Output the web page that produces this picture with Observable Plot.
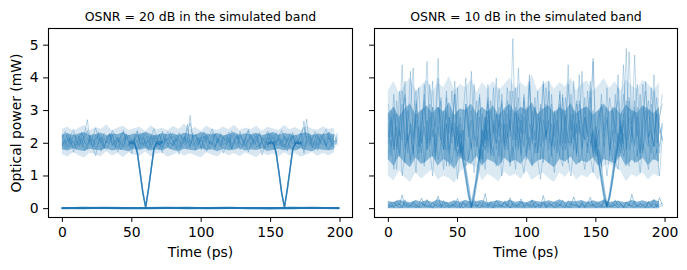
<!DOCTYPE html>
<html><head><meta charset="utf-8">
<script src="https://cdn.jsdelivr.net/npm/d3@7"></script>
<script src="https://cdn.jsdelivr.net/npm/@observablehq/plot@0.6"></script>
<style>
body{margin:0;background:#fff;font-family:"DejaVu Sans",sans-serif}
#chart{position:relative;width:687px;height:270px;overflow:hidden}
#chart svg{position:absolute;top:0}
</style>
</head><body><div id="chart"></div>
<script>
// ---------- data ----------
const titles = ["OSNR = 20 dB in the simulated band", "OSNR = 10 dB in the simulated band"];
const xLabel = "Time (ps)";
const yLabel = "Optical power (mW)";
const xTicks = [0, 50, 100, 150, 200];
const yTicks = [0, 1, 2, 3, 4, 5];
const sampleStep = 2; // ps between samples of each trace
const bandStep = 4;   // ps between samples of the band envelopes

// OSNR 20 dB: envelopes of the dense "1"-level band
const coreLoL = [1.8,1.76,1.83,1.78,1.75,1.82,1.79,1.77,1.84,1.76,1.8,1.78,1.74,1.82,1.79,1.83,1.76,1.8,1.77,1.84,1.78,1.75,1.82,1.79,1.76,1.83,1.78,1.8,1.74,1.82,1.77,1.79,1.84,1.76,1.8,1.78,1.83,1.75,1.79,1.82,1.77,1.8,1.76,1.83,1.78,1.74,1.82,1.79,1.77,1.8];
const coreHiL = [2.25,2.3,2.23,2.28,2.33,2.24,2.27,2.31,2.22,2.29,2.26,2.32,2.23,2.28,2.25,2.34,2.27,2.22,2.3,2.26,2.29,2.23,2.31,2.27,2.24,2.33,2.28,2.25,2.3,2.22,2.27,2.32,2.24,2.29,2.26,2.31,2.23,2.28,2.33,2.25,2.3,2.27,2.22,2.29,2.32,2.24,2.28,2.26,2.31,2.25];
const fringeLoL = [1.66,1.58,1.72,1.62,1.55,1.7,1.64,1.59,1.74,1.61,1.69,1.56,1.71,1.63,1.6,1.73,1.58,1.67,1.7,1.57,1.64,1.72,1.6,1.68,1.62,1.55,1.71,1.64,1.58,1.73,1.61,1.69,1.59,1.7,1.63,1.56,1.72,1.62,1.67,1.58,1.71,1.61,1.68,1.57,1.64,1.72,1.6,1.69,1.62,1.7];
const fringeHiL = [2.42,2.5,2.36,2.46,2.54,2.38,2.48,2.42,2.57,2.37,2.47,2.52,2.39,2.45,2.49,2.36,2.53,2.41,2.46,2.38,2.51,2.42,2.59,2.4,2.48,2.37,2.52,2.43,2.39,2.5,2.41,2.55,2.38,2.47,2.42,2.52,2.37,2.49,2.44,2.39,2.54,2.41,2.48,2.38,2.51,2.43,2.4,2.5,2.42,2.47];
// OSNR 20 dB: traces at the "1" level
const highL1 = [2.08,1.93,2.17,2.02,1.86,2.21,2.11,1.97,2.29,2.72,2.05,1.9,2.14,2.24,1.98,1.83,2.12,2.31,2.04,1.92,2.19,2.07,1.85,2.26,2.13,1.95,2.08,2.35,2.01,1.89,2.16,2.22,1.94,2.06,2.28,1.99,1.87,2.15,2.09,2.33,1.96,2.11,1.84,2.2,2.04,2.58,1.93,2.18,2.27,1.97,2.1,1.88,2.23,2.05,1.95,2.3,2.12,1.9,2.06,2.19,1.86,2.25,2.08,1.98,2.36,2.02,1.91,2.14,2.21,1.94,2.07,2.29,1.99,1.85,2.17,2.11,1.96,2.32,2.03,1.9,2.2,2.09,1.87,2.24,2.13,1.97,2.05,2.68,2.01,1.92,2.18,2.26,1.95,2.1,2.3,1.88,2.06,2.15,1.98,2.22];
const highL2 = [1.92,2.15,2.27,1.98,2.06,1.81,2.19,2.34,2.03,1.95,2.12,1.88,2.25,2.09,1.76,2.16,2.01,2.28,1.94,2.1,1.87,2.22,2.4,2.0,1.9,2.13,2.06,1.79,2.18,2.31,1.97,2.08,1.85,2.24,2.11,1.93,2.37,2.04,1.89,2.2,2.07,1.83,2.29,2.14,1.96,2.02,2.85,2.1,1.91,2.17,1.8,2.23,2.05,1.99,2.32,1.9,2.12,2.26,1.95,2.03,2.19,1.82,2.11,2.27,2.0,1.93,2.16,2.38,1.88,2.08,2.21,1.97,2.04,1.84,2.3,2.14,1.92,2.09,2.25,1.99,1.86,2.18,2.06,2.33,1.94,2.12,2.02,1.78,2.2,2.29,1.96,2.07,1.89,2.24,2.1,1.93,2.35,2.01,1.87,2.16];
const highL3 = [2.01,1.84,1.97,2.2,1.72,2.06,1.9,2.13,1.78,1.99,2.24,1.86,1.62,2.04,2.17,1.91,1.8,2.09,2.26,1.95,1.74,2.02,2.15,1.88,1.97,1.68,2.11,2.03,1.83,2.19,1.94,1.77,2.07,2.23,1.89,2.0,1.71,2.14,1.96,1.85,2.1,1.92,1.66,2.05,2.18,1.87,1.98,2.12,1.79,2.01,2.2,1.9,1.75,2.08,1.96,1.84,2.16,2.02,1.7,1.93,2.11,1.86,2.04,2.21,1.8,1.95,2.09,1.73,2.0,2.14,1.88,1.97,1.64,2.06,2.19,1.91,1.82,2.03,2.15,1.89,1.98,1.76,2.1,2.22,1.93,1.85,2.05,1.69,1.99,2.13,1.87,2.02,1.78,2.08,2.17,1.92,1.81,2.04,1.95,2.11];
const highL4 = [2.18,2.36,2.07,2.25,2.43,2.11,1.99,2.29,2.16,2.38,2.05,2.22,2.47,2.13,2.01,2.31,2.19,2.09,2.4,2.24,2.03,2.17,2.34,2.12,2.26,1.98,2.2,2.39,2.08,2.15,2.3,2.02,2.21,2.45,2.1,2.27,2.04,2.18,2.36,2.14,2.23,2.06,2.32,2.2,2.11,2.41,2.62,2.16,2.28,2.05,2.19,2.35,2.09,2.24,2.44,2.12,2.01,2.3,2.17,2.26,2.07,2.38,2.21,2.13,2.29,2.03,2.2,2.42,2.1,2.25,2.15,2.33,2.06,2.19,2.37,2.11,2.27,2.02,2.23,2.4,2.14,2.08,2.31,2.18,2.26,2.05,2.34,2.49,2.16,2.22,2.1,2.36,2.2,2.07,2.28,2.43,2.13,2.24,2.04,2.3];
const highL5 = [1.97,2.09,1.85,2.14,2.02,1.93,2.23,1.88,2.06,2.17,1.95,2.11,1.82,2.04,2.2,1.9,2.08,1.99,2.27,1.86,2.12,2.0,1.92,2.18,2.05,1.84,2.15,2.24,1.96,2.03,1.89,2.13,2.21,1.94,2.07,1.81,2.1,2.26,1.98,2.01,1.91,2.16,2.05,1.87,2.22,2.0,2.11,1.93,2.06,2.19,1.85,2.09,2.25,1.97,2.03,1.88,2.14,2.02,2.2,1.95,2.07,1.83,2.12,2.23,1.99,1.9,2.17,2.04,1.96,2.1,2.28,1.92,2.05,2.15,1.86,2.08,2.19,2.0,1.94,2.13,1.89,2.06,2.21,1.98,2.11,2.02,1.91,2.16,2.74,1.97,2.09,1.84,2.18,2.03,1.95,2.12,2.24,1.9,2.07,2.01];
const highL6 = [2.24,1.99,2.11,1.89,2.3,2.05,1.94,2.18,2.08,1.83,2.21,2.13,1.96,2.35,2.02,1.87,2.15,2.27,1.93,2.06,2.19,1.8,2.1,2.26,2.0,1.91,2.14,2.04,2.32,1.95,2.09,1.85,2.2,2.12,1.98,2.28,1.88,2.07,2.16,2.01,1.92,2.25,2.11,1.97,2.03,2.18,1.86,2.3,2.06,1.94,2.13,2.22,1.99,1.82,2.1,2.27,2.02,1.93,2.17,2.08,2.34,1.96,2.05,1.88,2.21,2.14,1.9,2.07,2.26,1.98,2.12,1.84,2.19,2.03,1.95,2.29,2.09,1.92,2.15,2.0,2.23,1.87,2.1,2.17,1.97,2.06,2.31,1.91,2.04,2.2,1.86,2.13,2.25,1.99,2.08,1.93,2.16,2.02,2.28,1.94];
// OSNR 20 dB: traces at the "0" level
const lowLTime = [0,15,30,45,60,75,90,105,120,135,150,165,180,199];
const lowL1 = [0.02,0.01,0.03,0.02,0.01,0.02,0.03,0.01,0.02,0.02,0.01,0.03,0.02,0.02];
const lowL2 = [0.01,0.03,0.02,0.01,0.02,0.03,0.01,0.02,0.03,0.01,0.02,0.01,0.03,0.01];
// OSNR 20 dB: transitions through the two "0" bits
const dipLTime = [48,50,52,54,56,58,60,62,64,66,68,70,72];
const dipL1a = [2.04,2.0,1.98,1.7,1.1,0.47,0.03,0.58,1.2,1.83,2.03,2.06,2.01];
const dipL1b = [1.98,2.06,2.02,1.73,1.12,0.5,0.05,0.6,1.23,1.86,2.0,1.97,2.05];
const dipL2Time = [148,150,152,154,156,158,160,162,164,166,168,170,172];
const dipL2a = [2.03,1.99,2.0,1.69,1.1,0.46,0.03,0.57,1.19,1.82,2.04,2.02,1.98];
const dipL2b = [1.97,2.05,2.03,1.72,1.13,0.49,0.05,0.61,1.22,1.85,2.01,1.99,2.04];

// OSNR 10 dB: envelopes of the dense bands
const coreLoR = [1.5,1.3,1.6,1.4,1.25,1.55,1.35,1.45,1.6,1.3,1.5,1.4,1.2,1.55,1.45,1.35,1.6,1.3,1.5,1.42,1.28,1.55,1.4,1.48,1.35,1.6,1.3,1.45,1.52,1.38,1.25,1.5,1.42,1.58,1.33,1.46,1.4,1.55,1.3,1.5,1.44,1.36,1.6,1.28,1.47,1.4,1.55,1.32,1.5,1.42];
const coreHiR = [2.9,3.1,2.8,3.05,3.2,2.85,3.0,3.15,2.9,3.1,2.95,3.25,2.85,3.05,3.0,3.2,2.9,3.1,2.95,3.15,2.85,3.05,3.2,2.9,3.1,3.0,3.25,2.88,3.05,3.15,2.92,3.1,2.98,3.22,2.9,3.05,3.12,2.86,3.0,3.2,2.95,3.1,2.88,3.18,3.0,2.92,3.15,3.05,2.9,3.1];
const fringeLoR = [1.0,0.85,1.15,0.95,0.8,1.1,0.9,1.05,1.2,0.88,1.0,0.92,0.78,1.1,1.3,1.35,1.25,0.85,1.05,0.95,0.82,1.12,0.98,1.05,0.9,1.15,0.86,1.0,1.08,0.92,0.8,1.1,0.95,1.18,0.88,1.02,0.94,1.12,0.84,1.3,1.35,1.25,1.15,0.82,1.04,0.96,1.1,0.88,1.05,0.98];
const fringeHiR = [3.6,3.9,3.5,3.8,4.0,3.6,3.75,3.95,3.55,3.85,3.7,4.05,3.6,3.8,3.7,3.95,3.55,3.85,3.65,3.9,3.6,3.8,4.0,3.65,3.85,3.7,4.1,3.6,3.8,3.9,3.65,3.85,3.72,4.0,3.6,3.82,3.9,3.58,3.75,3.98,3.68,3.88,3.6,3.95,3.75,3.65,3.92,3.8,3.62,3.85];
const lowHiR = [0.22,0.19,0.26,0.21,0.18,0.25,0.2,0.24,0.19,0.27,0.21,0.18,0.24,0.2,0.26,0.19,0.22,0.25,0.18,0.21,0.24,0.19,0.26,0.2,0.22,0.18,0.25,0.21,0.19,0.24,0.2,0.27,0.19,0.22,0.21,0.25,0.18,0.24,0.2,0.26,0.19,0.22,0.21,0.18,0.25,0.2,0.24,0.19,0.26,0.21];
// OSNR 10 dB: traces at the "1" level (some fall to the "0" bits)
const highR1 = [2.4,1.6,2.9,1.9,3.6,2.2,1.4,2.7,3.1,4.3,2.0,1.5,2.6,3.3,1.8,2.3,3.9,1.7,2.5,2.1,3.0,1.3,2.8,2.2,3.5,1.9,2.4,1.6,3.2,2.7,1.8,3.8,2.3,1.5,2.9,2.1,3.4,1.7,2.6,2.0,3.1,1.4,2.5,3.7,2.2,5.2,1.9,2.8,1.6,3.3,2.4,1.8,3.0,2.1,3.6,1.5,2.7,2.3,3.9,1.9,2.6,1.7,3.2,2.0,2.9,1.4,3.5,2.2,2.5,4.1,1.8,2.8,2.3,3.4,1.6,2.1,3.0,2.6,1.9,3.7,2.2,1.5,2.9,3.3,2.0,2.7,4.9,1.8,2.4,3.1,1.6,2.6,3.8,2.1,1.9,3.2,2.5,1.7,2.8,3.5];
const highR2 = [1.7,2.8,2.1,1.2,2.5,3.2,1.8,2.3,1.5,2.9,3.6,1.9,2.4,1.4,2.7,2.0,3.1,1.6,2.2,3.4,1.8,2.6,1.3,2.9,2.1,3.7,1.7,2.4,2.0,1.5,3.0,2.3,1.9,2.8,1.4,2.5,3.3,1.8,2.2,2.9,1.6,3.5,2.0,2.6,1.3,2.4,3.1,1.9,2.7,2.2,1.5,3.8,2.1,1.7,2.9,2.4,1.4,3.2,2.0,2.6,1.8,2.3,3.6,1.5,2.8,2.1,1.9,3.0,1.6,2.5,2.2,3.4,1.7,2.9,4.6,1.9,2.4,1.3,2.7,3.1,1.8,2.2,3.5,1.6,2.6,2.0,1.4,3.3,2.3,1.9,2.8,1.5,2.4,3.0,2.1,1.7,3.6,2.2,1.9,2.6];
const highR3 = [2.9,2.2,3.5,1.8,2.6,4.4,2.1,3.0,2.4,1.7,3.3,2.7,2.0,3.8,2.3,1.9,3.1,2.5,4.0,2.2,1.8,3.4,2.6,2.0,3.9,2.3,2.8,1.7,3.2,2.4,4.2,2.1,2.7,3.5,1.9,2.5,3.0,2.2,3.7,1.8,2.6,3.3,2.0,2.9,2.4,3.6,2.1,4.3,2.5,1.9,3.1,2.6,2.3,3.4,1.8,2.8,3.9,2.2,2.6,3.2,1.9,2.7,3.5,2.3,2.0,3.8,2.4,2.9,1.7,3.3,2.6,2.1,3.6,2.5,4.5,2.2,2.8,3.1,1.9,2.4,3.4,2.7,2.0,3.7,2.3,2.9,2.1,4.8,2.6,3.0,2.2,3.5,1.8,2.7,3.3,2.4,4.1,2.0,2.8,3.2];
const highR4 = [1.5,2.1,1.2,1.8,2.4,1.0,1.7,2.2,1.4,1.9,1.1,2.5,1.6,1.3,2.0,1.8,1.0,2.3,1.5,1.9,1.2,2.6,1.7,1.4,2.1,0.9,1.8,2.4,1.3,1.6,2.0,1.1,2.2,1.5,1.8,1.2,2.7,1.6,1.9,1.3,2.1,1.0,1.7,2.3,1.4,1.9,1.2,2.5,1.6,1.1,1.8,2.2,1.3,2.0,1.5,0.9,1.7,2.4,1.4,1.8,1.1,2.1,1.6,1.3,2.3,1.5,1.0,1.9,2.6,1.4,1.7,1.2,2.0,1.6,1.1,2.2,1.8,1.3,1.9,1.0,1.7,2.4,1.5,1.2,2.1,1.6,1.9,1.3,2.5,1.4,1.8,1.1,2.0,1.7,1.2,2.3,1.5,1.8,1.0,2.2];
const highR5 = [2.2,3.0,1.9,2.5,1.6,2.8,3.4,2.0,2.6,1.8,3.2,2.3,1.7,2.9,4.5,2.1,2.4,1.5,3.1,2.7,2.0,3.6,1.8,2.5,2.2,3.0,1.6,2.8,4.0,2.3,1.9,2.6,3.3,1.7,2.4,2.1,3.8,2.0,1.6,2.9,2.5,3.2,1.8,2.2,2.7,1.5,3.0,2.4,2.0,3.5,2.6,1.9,2.3,3.1,1.7,2.8,2.1,3.7,2.4,1.8,2.9,2.2,1.6,3.4,2.5,2.0,2.7,1.8,3.2,2.3,4.2,2.1,1.9,2.6,3.0,1.7,2.4,3.5,2.2,2.8,1.6,3.1,2.5,2.0,2.9,4.4,1.8,2.3,2.7,3.3,2.0,1.7,2.6,3.9,2.2,2.4,1.9,3.0,2.5,2.1];
const highR6 = [2.6,1.9,3.1,2.3,1.7,2.8,3.5,2.1,2.4,1.6,2.9,3.7,2.0,2.5,1.8,3.2,2.2,2.7,4.6,1.9,2.4,3.0,1.7,2.6,2.1,2.3,2.0,1.6,1.0,0.45,0.06,0.4,0.95,1.55,2.3,2.8,1.9,3.3,2.4,2.0,2.7,1.6,3.0,2.2,3.6,2.5,1.8,2.9,2.3,3.4,1.7,2.6,2.1,3.1,2.4,1.9,3.8,2.2,2.7,1.6,3.0,2.5,2.0,3.5,1.8,2.4,2.9,2.1,3.3,2.6,1.7,2.8,2.2,3.9,2.0,2.5,1.9,3.2,2.4,2.7,1.8,3.0,2.3,4.1,2.1,2.6,1.9,3.4,2.5,2.0,3.1,1.7,2.8,3.6,2.2,2.4,1.9,2.9,2.3,2.6];
const highR7 = [2.0,2.7,1.8,3.3,2.4,2.1,3.9,1.7,2.6,2.2,3.0,1.9,2.5,3.5,2.0,2.8,1.6,2.4,3.1,2.2,1.8,2.9,2.3,3.6,2.0,1.7,1.9,1.5,0.9,0.4,0.08,0.45,1.0,1.6,2.1,2.5,3.2,1.9,2.7,2.3,3.7,2.0,2.6,1.8,3.0,2.4,2.2,3.4,1.7,2.8,2.1,3.9,2.5,1.9,2.6,3.1,2.0,2.4,1.8,3.5,2.2,2.7,1.9,3.0,2.3,4.4,2.0,2.6,1.7,3.2,2.4,2.1,2.8,3.6,1.9,2.2,1.6,0.95,0.4,0.06,0.35,0.9,1.5,2.1,2.7,1.8,3.3,2.4,2.0,2.9,3.8,2.2,1.7,2.6,3.0,2.3,1.9,3.4,2.5,2.1];
const highR8 = [3.2,2.4,1.8,2.9,2.2,3.6,1.9,2.5,4.2,2.1,2.7,1.7,3.0,2.3,2.0,3.8,2.5,1.9,2.6,3.3,2.1,1.8,2.8,2.4,3.5,2.0,2.6,1.8,3.1,2.2,2.7,1.9,2.4,3.4,2.0,2.8,1.7,3.0,2.3,4.0,2.2,2.6,1.9,3.3,2.5,2.1,3.7,1.8,2.9,2.3,2.6,4.1,2.0,2.4,1.7,3.2,2.8,2.1,3.6,1.9,2.5,3.0,2.2,1.8,3.4,2.6,2.0,3.9,2.3,2.7,1.9,3.1,2.4,2.0,2.3,1.9,1.4,0.85,0.35,0.05,0.3,0.8,1.45,2.0,2.6,3.5,1.9,2.8,2.2,4.7,2.4,1.8,3.1,2.6,2.0,3.7,2.3,2.9,1.7,2.5];
// OSNR 10 dB: extra transitions through the two "0" bits
const dipRTimeA = [48,50,52,54,56,58,60,62,64,66,68,70,72];
const dipRA1 = [2.6,1.9,2.3,1.5,1.1,0.5,0.1,0.4,1.2,1.6,2.4,2.0,2.8];
const dipRA2 = [1.8,2.5,1.7,1.9,1.2,0.7,0.15,0.6,0.9,1.8,1.5,2.6,2.1];
const dipRA3 = [2.2,1.6,2.0,1.4,0.9,0.35,0.05,0.3,0.8,1.3,2.1,1.8,2.4];
const dipRTimeB = [146,148,150,152,154,156,158,160,162,164,166,168,170];
const dipRB1 = [2.5,1.8,2.1,1.4,1.0,0.45,0.08,0.5,1.1,1.7,2.3,1.9,2.7];
const dipRB2 = [1.9,2.4,1.6,1.8,1.3,0.6,0.12,0.35,0.95,1.5,1.9,2.5,2.0];
const dipRB3 = [2.3,1.7,2.0,1.5,0.8,0.3,0.04,0.4,0.85,1.4,2.0,1.7,2.3];
// OSNR 10 dB: traces at the "0" level
const lowR1 = [0.12,0.05,0.21,0.08,0.15,0.03,0.27,0.1,0.06,0.18,0.02,0.14,0.32,0.07,0.11,0.04,0.2,0.09,0.16,0.03,0.25,0.08,0.13,0.05,0.19,0.1,0.02,0.22,0.07,0.15,0.04,0.28,0.09,0.12,0.06,0.17,0.03,0.21,0.11,0.08,0.14,0.05,0.24,0.1,0.02,0.18,0.07,0.13,0.3,0.06,0.16,0.09,0.04,0.2,0.12,0.07,0.23,0.03,0.15,0.1,0.05,0.19,0.08,0.26,0.11,0.04,0.17,0.09,0.13,0.02,0.21,0.07,0.14,0.35,0.06,0.18,0.1,0.04,0.22,0.08,0.13,0.05,0.27,0.09,0.16,0.03,0.2,0.11,0.07,0.24,0.05,0.15,0.1,0.02,0.19,0.08,0.29,0.06,0.12,0.17];
const lowR2 = [0.07,0.18,0.04,0.24,0.11,0.42,0.06,0.15,0.09,0.22,0.13,0.05,0.19,0.08,0.28,0.1,0.03,0.16,0.38,0.07,0.12,0.2,0.06,0.14,0.09,0.31,0.04,0.17,0.11,0.23,0.07,0.13,0.05,0.2,0.1,0.46,0.08,0.15,0.03,0.26,0.12,0.09,0.19,0.06,0.33,0.1,0.14,0.04,0.21,0.08,0.17,0.11,0.27,0.05,0.13,0.09,0.4,0.07,0.18,0.12,0.2,0.06,0.15,0.1,0.03,0.24,0.09,0.36,0.12,0.07,0.16,0.05,0.22,0.1,0.14,0.04,0.19,0.08,0.3,0.11,0.06,0.17,0.09,0.25,0.13,0.05,0.21,0.08,0.44,0.12,0.07,0.16,0.1,0.03,0.23,0.09,0.15,0.06,0.34,0.11];
const lowR3 = [0.03,0.09,0.05,0.13,0.02,0.08,0.16,0.04,0.1,0.06,0.12,0.03,0.07,0.15,0.05,0.09,0.02,0.11,0.06,0.14,0.04,0.08,0.03,0.12,0.07,0.05,0.17,0.02,0.1,0.06,0.04,0.13,0.08,0.03,0.09,0.05,0.14,0.07,0.02,0.11,0.06,0.1,0.04,0.15,0.03,0.08,0.05,0.12,0.07,0.02,0.1,0.06,0.13,0.04,0.09,0.03,0.16,0.05,0.08,0.11,0.02,0.07,0.12,0.04,0.1,0.06,0.03,0.14,0.08,0.05,0.11,0.02,0.09,0.07,0.13,0.04,0.06,0.1,0.03,0.15,0.05,0.08,0.12,0.02,0.1,0.06,0.04,0.13,0.07,0.03,0.11,0.05,0.09,0.16,0.04,0.08,0.02,0.12,0.06,0.1];

// ---------- build tables ----------
const blue = "#1f77b4";
const sampled = (list) => list.flatMap((vals, k) => vals.map((v, i) => ({t: i * sampleStep, v, k})));
const timed = (time, list) => list.flatMap((vals, k) => vals.map((v, i) => ({t: time[i], v, k})));
const band = (lo, hi) => lo.map((l, i) => ({t: i * bandStep, lo: l, hi: hi[i]}));
const zeroBand = (hi) => hi.map((h, i) => ({t: i * bandStep, lo: 0.0, hi: h}));

const panels = [
  {
    title: titles[0], left: 0, width: 357, marginLeft: 48, marginRight: 5, showYLabels: true,
    bands: [
      {data: band(fringeLoL, fringeHiL), opacity: 0.18},
      {data: band(coreLoL, coreHiL), opacity: 0.5}
    ],
    layers: [
      {data: sampled([highL1, highL2, highL3, highL4, highL5, highL6]), opacity: 0.3, width: 1},
      {data: timed(lowLTime, [lowL1, lowL2]), opacity: 0.95, width: 2},
      {data: timed(dipLTime, [dipL1a, dipL1b]), opacity: 0.75, width: 1.4},
      {data: timed(dipL2Time, [dipL2a, dipL2b]), opacity: 0.75, width: 1.4}
    ]
  },
  {
    title: titles[1], left: 357, width: 330, marginLeft: 17, marginRight: 10, showYLabels: false,
    bands: [
      {data: band(fringeLoR, fringeHiR), opacity: 0.16},
      {data: band(coreLoR, coreHiR), opacity: 0.45},
      {data: zeroBand(lowHiR), opacity: 0.55}
    ],
    layers: [
      {data: sampled([highR1, highR2, highR3, highR4, highR5, highR6, highR7, highR8]), opacity: 0.28, width: 1},
      {data: timed(dipRTimeA, [dipRA1, dipRA2, dipRA3]), opacity: 0.4, width: 1.3},
      {data: timed(dipRTimeB, [dipRB1, dipRB2, dipRB3]), opacity: 0.4, width: 1.3},
      {data: sampled([lowR1, lowR2, lowR3]), opacity: 0.4, width: 1}
    ]
  }
];

const chart = document.getElementById("chart");
for (const p of panels) {
  const svg = Plot.plot({
    width: p.width, height: 270,
    marginLeft: p.marginLeft, marginRight: p.marginRight, marginTop: 28, marginBottom: 53,
    style: {fontFamily: "DejaVu Sans, sans-serif", fontSize: "13.9px", color: "#000", background: "transparent", overflow: "visible"},
    x: {domain: [-10, 209], ticks: xTicks, label: null, tickSize: 4.9, tickPadding: 5},
    y: {domain: [-0.27, 5.51], ticks: yTicks, label: null, tickSize: 4.9, tickPadding: 4.9,
        tickFormat: p.showYLabels ? (d) => String(d) : () => ""},
    marks: [
      ...p.bands.map(b => Plot.areaY(b.data, {x: "t", y1: "lo", y2: "hi", fill: blue, fillOpacity: b.opacity})),
      ...p.layers.map(l => Plot.lineY(l.data, {x: "t", y: "v", z: "k", stroke: blue, strokeOpacity: l.opacity, strokeWidth: l.width})),
      Plot.frame({stroke: "#000", strokeWidth: 1.1}),
      Plot.text([p.title], {frameAnchor: "top", lineAnchor: "middle", dy: -12, fontSize: 12.5, fill: "#000"}),
      Plot.text([xLabel], {frameAnchor: "bottom", lineAnchor: "middle", dy: 35.5, fontSize: 13.9, fill: "#000"}),
      ...(p.showYLabels ? [Plot.text([yLabel], {frameAnchor: "left", textAnchor: "middle", lineAnchor: "middle", dx: -32.3, rotate: -90, fontSize: 13.9, fill: "#000"})] : [])
    ]
  });
  svg.style.left = p.left + "px";
  chart.appendChild(svg);
}
</script>
</body></html>
